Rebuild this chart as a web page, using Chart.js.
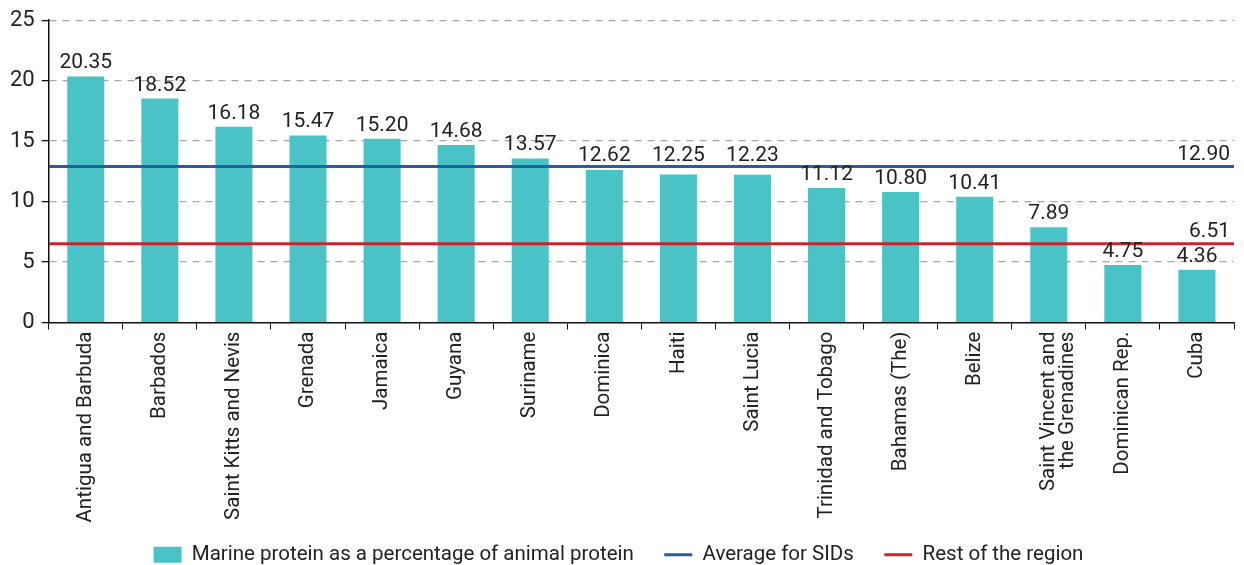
<!DOCTYPE html>
<html>
<head>
<meta charset="utf-8">
<script src="https://cdn.jsdelivr.net/npm/chart.js@4/dist/chart.umd.min.js"></script>
<style>
  html, body { margin: 0; padding: 0; background: #fff; }
  #wrap { width: 1244px; height: 565px; }
</style>
</head>
<body>
<div id="wrap"><canvas id="proteinChart"></canvas></div>
<script>
const countries = [
  'Antigua and Barbuda', 'Barbados', 'Saint Kitts and Nevis', 'Grenada', 'Jamaica',
  'Guyana', 'Suriname', 'Dominica', 'Haiti', 'Saint Lucia', 'Trinidad and Tobago',
  'Bahamas (The)', 'Belize', ['Saint Vincent and', 'the Grenadines'], 'Dominican Rep.', 'Cuba'
];
const marineShare = [20.35, 18.52, 16.18, 15.47, 15.20, 14.68, 13.57, 12.62, 12.25, 12.23, 11.12, 10.80, 10.41, 7.89, 4.75, 4.36];
const averageSIDs = 12.90;
const restOfRegion = 6.51;
const yTicks = [0, 5, 10, 15, 20, 25];

const FONT = 'Roboto, "DejaVu Sans", sans-serif';

// value labels above the bars and at the right end of the two reference lines
const valueLabels = {
  id: 'valueLabels',
  afterDatasetsDraw(chart) {
    const ctx = chart.ctx;
    const area = chart.chartArea;
    const yScale = chart.scales.y;
    const lineYs = [yScale.getPixelForValue(averageSIDs), yScale.getPixelForValue(restOfRegion)];
    ctx.save();
    ctx.font = '21px ' + FONT;
    ctx.fillStyle = '#222';
    ctx.textBaseline = 'alphabetic';
    ctx.textAlign = 'center';
    chart.getDatasetMeta(0).data.forEach((bar, i) => {
      let base = bar.y - 8;
      lineYs.forEach(ly => {
        if (bar.y > ly && bar.y < ly + 15) base = Math.min(base, ly - 6);
      });
      ctx.fillText(marineShare[i].toFixed(2), bar.x, base);
    });
    ctx.textAlign = 'right';
    [averageSIDs, restOfRegion].forEach((v, k) => {
      ctx.fillText(v.toFixed(2), area.right - 4, lineYs[k] - 7);
    });
    ctx.restore();
  }
};

new Chart(document.getElementById('proteinChart').getContext('2d'), {
  type: 'bar',
  data: {
    labels: countries,
    datasets: [
      {
        label: 'Marine protein as a percentage of animal protein',
        data: marineShare,
        backgroundColor: '#4AC3C6',
        grouped: false,
        barPercentage: 0.5,
        categoryPercentage: 1,
        order: 2
      },
      {
        type: 'line',
        label: 'Average for SIDs',
        data: [{ x: 0, y: averageSIDs }, { x: 1, y: averageSIDs }],
        xAxisID: 'x2',
        borderColor: '#2A5CA6',
        backgroundColor: '#2A5CA6',
        borderWidth: 3,
        pointRadius: 0,
        order: 1
      },
      {
        type: 'line',
        label: 'Rest of the region',
        data: [{ x: 0, y: restOfRegion }, { x: 1, y: restOfRegion }],
        xAxisID: 'x2',
        borderColor: '#C8252E',
        backgroundColor: '#C8252E',
        borderWidth: 3,
        pointRadius: 0,
        order: 0
      }
    ]
  },
  options: {
    responsive: true,
    maintainAspectRatio: false,
    animation: false,
    layout: { padding: { top: 15, right: 10, left: 3, bottom: -10 } },
    plugins: {
      tooltip: { enabled: false },
      legend: {
        position: 'bottom',
        labels: {
          font: { family: FONT, size: 20.5 },
          color: '#222',
          usePointStyle: true,
          pointStyleWidth: 28,
          boxHeight: 16,
          padding: 20,
          sort: (a, b) => a.datasetIndex - b.datasetIndex,
          generateLabels(chart) {
            const items = Chart.defaults.plugins.legend.labels.generateLabels(chart);
            items.forEach(it => {
              const ds = chart.data.datasets[it.datasetIndex];
              if (it.datasetIndex < 2) it.text += '\u2002';
              if (it.datasetIndex === 0) {
                it.pointStyle = 'rect';
                it.lineWidth = 0;
              } else {
                it.pointStyle = 'line';
                it.lineWidth = 3;
                it.strokeStyle = ds.borderColor;
              }
            });
            return items;
          }
        }
      }
    },
    scales: {
      x: {
        grid: { offset: true, drawOnChartArea: false, drawTicks: true, tickLength: 7, color: '#111' },
        border: { color: '#111', width: 1.5 },
        ticks: {
          font: { family: FONT, size: 20.5, lineHeight: 0.95 },
          color: '#222',
          maxRotation: 90,
          minRotation: 90,
          autoSkip: false,
          padding: 2
        }
      },
      x2: { type: 'linear', min: 0, max: 1, offset: false, display: false },
      y: {
        min: 0,
        max: 25,
        afterBuildTicks(axis) { axis.ticks = yTicks.map(v => ({ value: v })); },
        grid: {
          color: ctx => ctx.tick && ctx.tick.value === 0 ? 'rgba(0,0,0,0)' : '#A8A8A8',
          tickColor: '#111',
          tickLength: 7,
          lineWidth: 1.3
        },
        border: { color: '#111', width: 1.5, dash: [7, 6] },
        ticks: { font: { family: FONT, size: 22 }, color: '#222', padding: 7 }
      }
    }
  },
  plugins: [valueLabels]
});
</script>
</body>
</html>
